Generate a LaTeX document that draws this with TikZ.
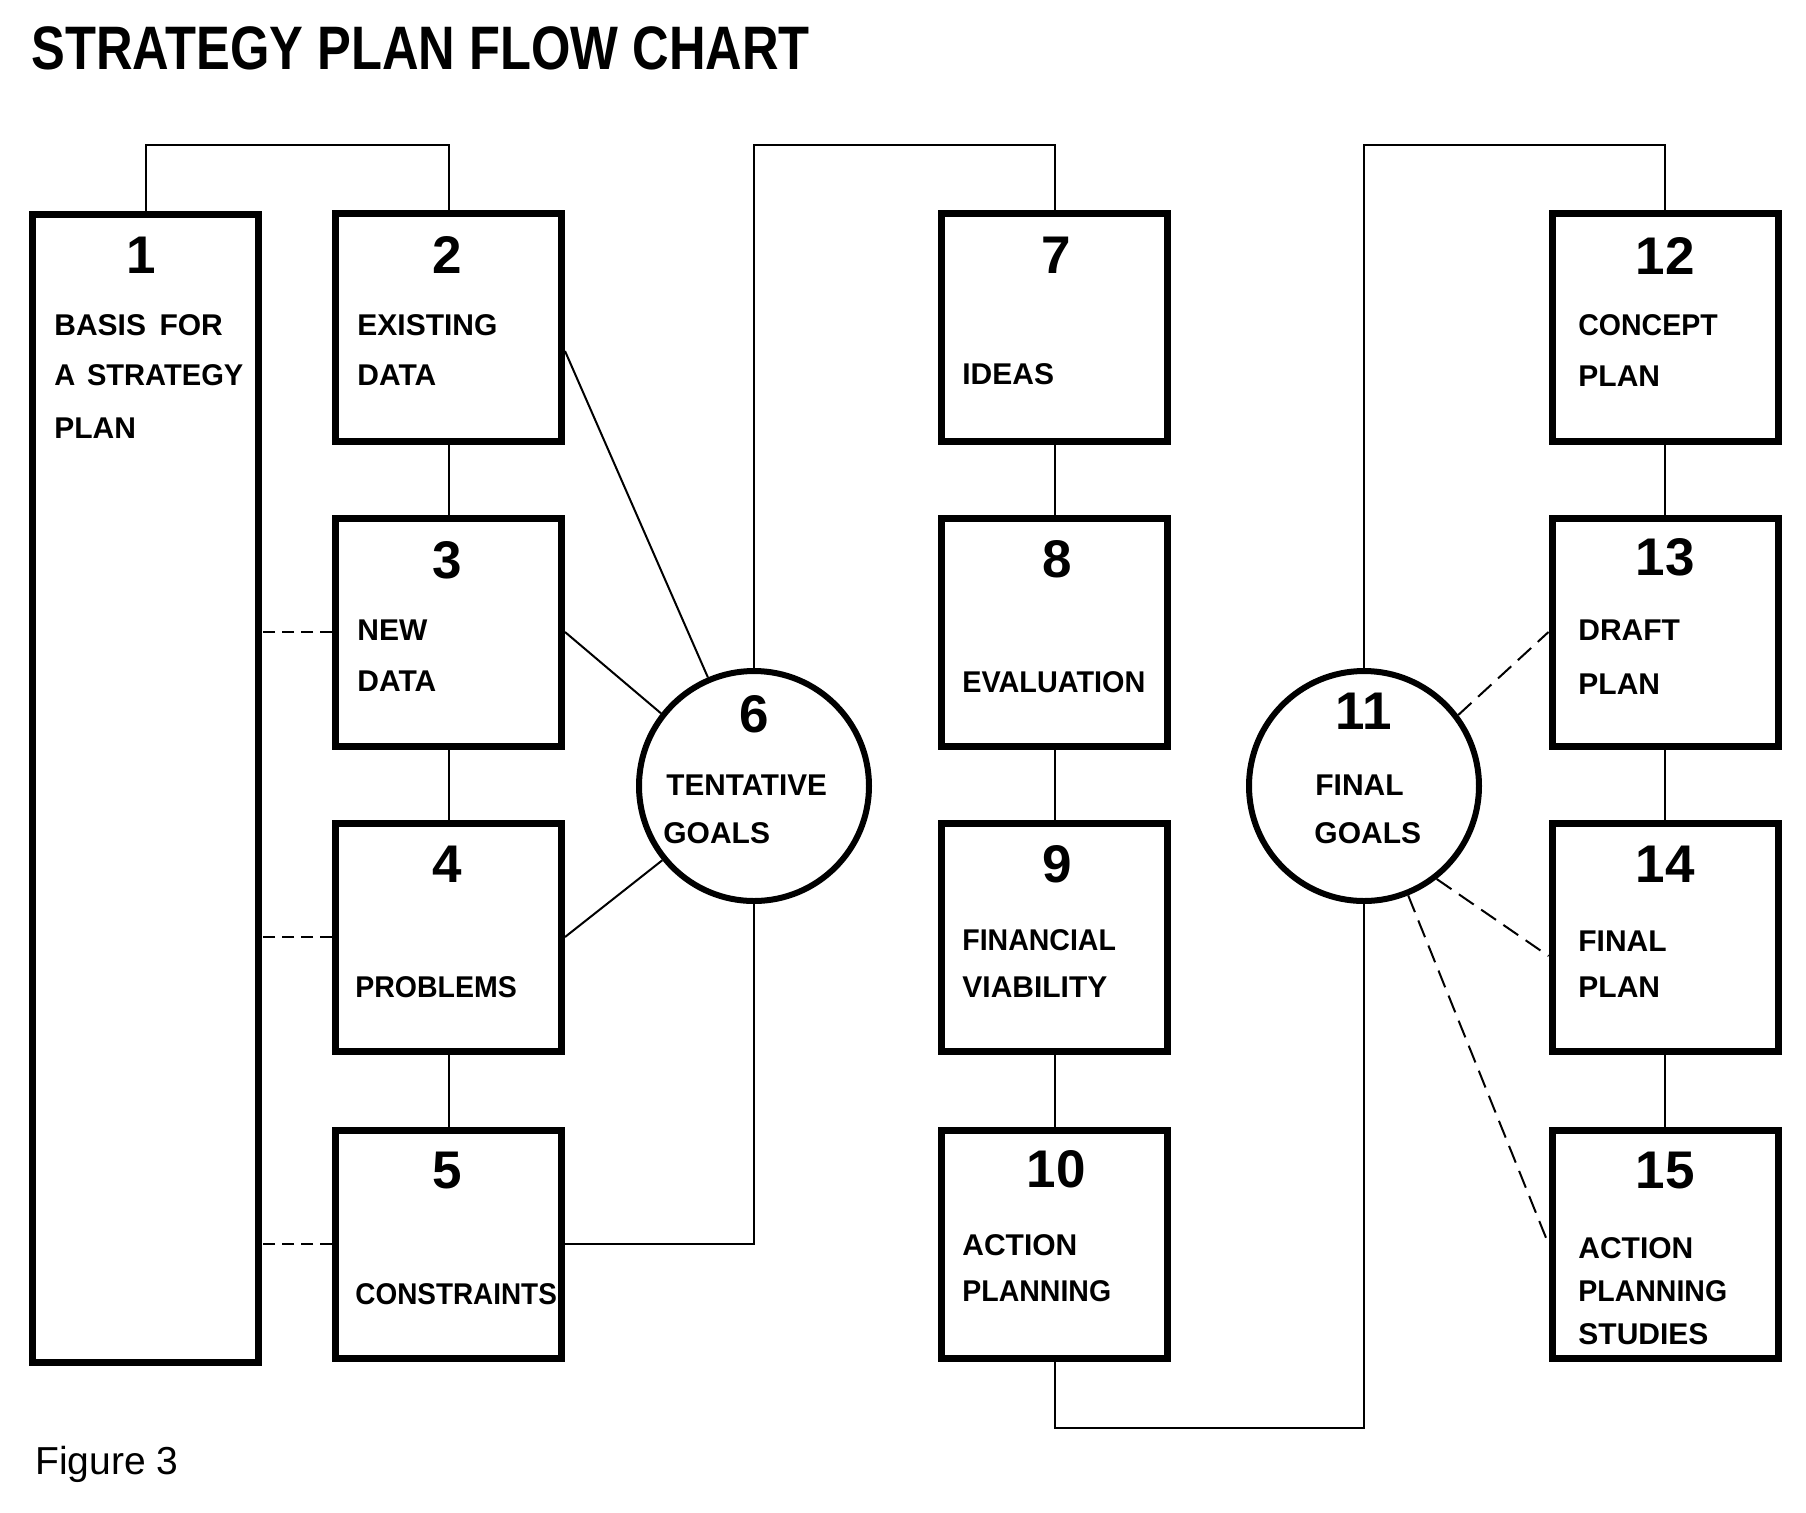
\documentclass[tikz,border=0pt]{standalone}
\usepackage{fontspec}
\setmainfont{Liberation Sans}
\usetikzlibrary{calc}
\begin{document}
\begin{tikzpicture}[x=0.5pt,y=-0.5pt,
  box/.style={draw, line width=3.5pt, minimum width=113pt, minimum height=114pt, inner sep=0pt},
  ring/.style={draw, circle, line width=3pt, minimum size=115pt, inner sep=0pt},
  conn/.style={line width=1pt},
  dconn/.style={line width=1pt, dash pattern=on 6pt off 3.5pt},
  ldash/.style={line width=1pt, dash pattern=on 9pt off 4.5pt},
  num/.style={font=\fontsize{26.5}{28}\selectfont\bfseries, inner sep=0pt},
  lbl/.style={font=\fontsize{15}{17}\selectfont\bfseries, anchor=base west, inner sep=0pt},
]
\fill[white] (0,0) rectangle (1806,1512);
\useasboundingbox (0,0) rectangle (1806,1512);

% title
\node[anchor=base west, inner sep=0pt, font=\fontsize{30.7}{32}\selectfont\bfseries] (title) at (31,69) {\scalebox{0.825}[1]{STRATEGY PLAN FLOW CHART}};
\node[anchor=base west, inner sep=0pt, font=\fontsize{19.5}{21}\selectfont] (fig) at (35,1474) {Figure 3};

% boxes
\node[box, minimum height=574pt] (b1) at (145.5,788) {};
\node[box] (b2) at (448.5,327) {};
\node[box] (b3) at (448.5,632) {};
\node[box] (b4) at (448.5,937) {};
\node[box] (b5) at (448.5,1244) {};
\node[box] (b7) at (1054.5,327) {};
\node[box] (b8) at (1054.5,632) {};
\node[box] (b9) at (1054.5,937) {};
\node[box] (b10) at (1054.5,1244) {};
\node[box] (b12) at (1665,327) {};
\node[box] (b13) at (1665,632) {};
\node[box] (b14) at (1665,937) {};
\node[box] (b15) at (1665,1244) {};
\node[ring] (c6) at (754,786) {};
\node[ring] (c11) at (1364,786) {};

% numbers
\node[num] (n1) at (141,255) {1};
\node[num] (n2) at (447,255) {2};
\node[num] (n3) at (447,560) {3};
\node[num] (n4) at (447,864) {4};
\node[num] (n5) at (447,1171) {5};
\node[num] (n6) at (754,714) {6};
\node[num] (n7) at (1056,255) {7};
\node[num] (n8) at (1057,559) {8};
\node[num] (n9) at (1057,864) {9};
\node[num] (n10) at (1056,1169) {10};
\node[num] (n11) at (1364,711) {11};
\node[num] (n12) at (1665,256) {12};
\node[num] (n13) at (1665,557) {13};
\node[num] (n14) at (1665,864) {14};
\node[num] (n15) at (1665,1171) {15};

% labels
\node[lbl] (l1a) at (54,335) {BASIS\hspace{0.45em}FOR};
\node[lbl] (l1b) at (54,385) {\scalebox{0.97}[1]{A\hspace{0.4em}STRATEGY}};
\node[lbl] (l1c) at (54,438) {PLAN};
\node[lbl] (l2a) at (357,335) {EXISTING};
\node[lbl] (l2b) at (357,385) {DATA};
\node[lbl] (l3a) at (357,640) {NEW};
\node[lbl] (l3b) at (357,691) {DATA};
\node[lbl] (l4) at (355,997) {\scalebox{0.95}[1]{PROBLEMS}};
\node[lbl] (l5) at (355,1304) {\scalebox{0.93}[1]{CONSTRAINTS}};
\node[lbl] (l6a) at (666,795) {\scalebox{0.99}[1]{TENTATIVE}};
\node[lbl] (l6b) at (663,843) {GOALS};
\node[lbl] (l7) at (962,384) {IDEAS};
\node[lbl] (l8) at (962,692) {\scalebox{0.96}[1]{EVALUATION}};
\node[lbl] (l9a) at (962,950) {\scalebox{0.95}[1]{FINANCIAL}};
\node[lbl] (l9b) at (962,997) {VIABILITY};
\node[lbl] (l10a) at (962,1255) {ACTION};
\node[lbl] (l10b) at (962,1301) {\scalebox{0.95}[1]{PLANNING}};
\node[lbl] (l11a) at (1315,795) {FINAL};
\node[lbl] (l11b) at (1314,843) {GOALS};
\node[lbl] (l12a) at (1578,335) {\scalebox{0.95}[1]{CONCEPT}};
\node[lbl] (l12b) at (1578,386) {PLAN};
\node[lbl] (l13a) at (1578,640) {DRAFT};
\node[lbl] (l13b) at (1578,694) {PLAN};
\node[lbl] (l14a) at (1578,951) {FINAL};
\node[lbl] (l14b) at (1578,997) {PLAN};
\node[lbl] (l15a) at (1578,1258) {ACTION};
\node[lbl] (l15b) at (1578,1301) {\scalebox{0.95}[1]{PLANNING}};
\node[lbl] (l15c) at (1578,1344) {STUDIES};

% helper coordinates
\coordinate (top) at (0,145);
\coordinate (bot) at (0,1428);

% connectors
\draw[conn] (b1.north) -- (b1.north |- top) -- (b2.north |- top) -- (b2.north);
\draw[conn] (c6.north) -- (c6.north |- top) -- (b7.north |- top) -- (b7.north);
\draw[conn] (c11.north) -- (c11.north |- top) -- (b12.north |- top) -- (b12.north);
\draw[conn] (b2) -- (b3);
\draw[conn] (b3) -- (b4);
\draw[conn] (b4) -- (b5);
\draw[conn] (b7) -- (b8);
\draw[conn] (b8) -- (b9);
\draw[conn] (b9) -- (b10);
\draw[conn] (b12) -- (b13);
\draw[conn] (b13) -- (b14);
\draw[conn] (b14) -- (b15);
\draw[conn] ($(b2.east)+(0,24)$) -- (c6.113);
\draw[conn] (b3.east) -- (c6.142);
\draw[conn] (b4.east) -- (c6.219);
\draw[conn] (b5.east) -| (c6.south);
\draw[conn] (b10.south) -- (b10.south |- bot) -| (c11.south);
\draw[dconn] (b3.west) -- (b3.west -| b1.east);
\draw[dconn] (b4.west) -- (b4.west -| b1.east);
\draw[dconn] (b5.west) -- (b5.west -| b1.east);
\draw[ldash] (c11.37) -- (b13.west);
\draw[ldash] (c11.308) -- ($(b14.west)+(0,19)$);
\draw[ldash] (c11.292) -- (b15.west);
\end{tikzpicture}
\end{document}
